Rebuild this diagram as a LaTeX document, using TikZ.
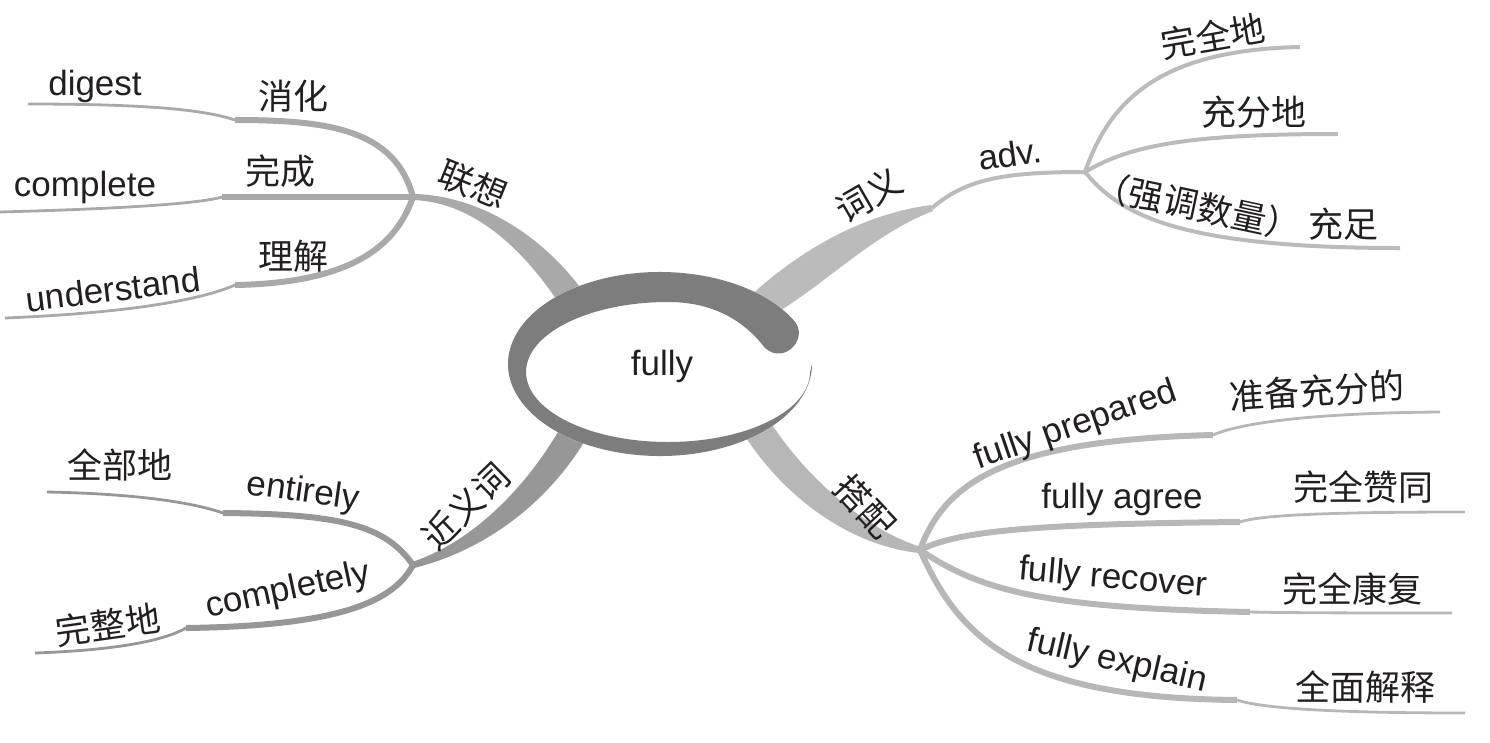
\documentclass[tikz,border=0pt]{standalone}
\usepackage{fontspec}
\setmainfont{Liberation Sans}
\newfontfamily\cjk{Noto Sans CJK SC}
\usetikzlibrary{calc}
\definecolor{ringgray}{HTML}{7D7D7D}
\definecolor{assocgray}{HTML}{A9A9A9}
\definecolor{meangray}{HTML}{BBBBBB}
\definecolor{syngray}{HTML}{979797}
\definecolor{collgray}{HTML}{B7B7B7}
\definecolor{inkgray}{HTML}{231F20}

\begin{document}
\begin{tikzpicture}[x=1pt, y=-1pt,
  en/.style={font=\fontsize{35}{40}\selectfont, text=inkgray, inner sep=0pt},
  zh/.style={font=\cjk\fontsize{35}{40}\selectfont, text=inkgray, inner sep=0pt},
  twig/.style={line width=6pt},
  leaf/.style={line width=2.8pt},
  stem/.style={line width=4pt}
]
\useasboundingbox (0,0) rectangle (1490,742);

% 联想
\coordinate (j1) at (413,197);
\coordinate (s11) at (235,120); \coordinate (e11) at (28,104);
\coordinate (s12) at (222,197); \coordinate (e12) at (0,212);
\coordinate (s13) at (235,285); \coordinate (e13) at (5,318);
\fill[assocgray] (413,194) .. controls (480,195) and (552,238) .. (597,312) -- (573,326) .. controls (530,252) and (475,202) .. (413,200) -- cycle;
\draw[twig, assocgray] (j1) .. controls (395,130) and (330,120) .. (s11);
\draw[twig, assocgray] (j1) -- (s12);
\draw[twig, assocgray] (j1) .. controls (398,240) and (360,283) .. (s13);
\draw[leaf, assocgray] (s11) .. controls (205,110) and (150,104) .. (e11);
\draw[leaf, assocgray] (s12) .. controls (205,202) and (150,208) .. (e12);
\draw[leaf, assocgray] (s13) .. controls (210,296) and (150,312) .. (e13);
\node[en] (digest) at (95,86) {digest};
\node[zh] (xiaohua) at (293,96) {消化};
\node[en] (complete) at (85,187) {complete};
\node[zh] (wancheng) at (280,171) {完成};
\node[en, rotate=7] (understand) at (113,289) {understand};
\node[zh] (lijie) at (293,256) {理解};
\node[zh, rotate=-22] (lianxiang) at (473,184) {联想};

% 词义
\coordinate (s2) at (932,208);
\coordinate (j2) at (1085,172);
\coordinate (e21) at (1300,47); \coordinate (e22) at (1338,134); \coordinate (e23) at (1400,248);
\fill[meangray] (746,300) .. controls (790,258) and (855,215) .. (931,205) -- (933,211) .. controls (870,235) and (820,290) .. (764,320) -- cycle;
\draw[stem, meangray] (s2) .. controls (965,180) and (1000,172) .. (j2);
\draw[stem, meangray] (j2) .. controls (1110,100) and (1160,50) .. (e21);
\draw[stem, meangray] (j2) .. controls (1130,145) and (1190,134) .. (e22);
\draw[stem, meangray] (j2) .. controls (1120,215) and (1180,248) .. (e23);
\node[zh, rotate=30] (ciyi) at (869,195) {词义};
\node[en, rotate=8] (adv) at (1010,154) {adv.};
\node[zh, rotate=10] (wanquan) at (1213,36) {完全地};
\node[zh] (chongfen) at (1254,112) {充分地};
\node[zh, rotate=-12] (qiangdiao) at (1198,206) {（强调数量）};
\node[zh] (chongzu) at (1343,224) {充足};

% 近义词
\coordinate (j3) at (413,565);
\coordinate (s31) at (223,513); \coordinate (e31) at (47,492);
\coordinate (s32) at (186,628); \coordinate (e32) at (35,653);
\fill[syngray] (412,562) .. controls (475,541) and (530,484) .. (566,418) -- (590,432) .. controls (552,500) and (487,550) .. (414,568) -- cycle;
\draw[twig, syngray] (j3) .. controls (385,525) and (340,514) .. (s31);
\draw[twig, syngray] (j3) .. controls (392,605) and (330,626) .. (s32);
\draw[leaf, syngray] (s31) .. controls (200,505) and (150,494) .. (e31);
\draw[leaf, syngray] (s32) .. controls (165,640) and (120,650) .. (e32);
\node[zh, rotate=44] (jinyici) at (466,506) {近义词};
\node[en, rotate=-8] (entirely) at (303,493) {entirely};
\node[zh] (quanbu) at (120,465) {全部地};
\node[en, rotate=12] (completely) at (288,591) {completely};
\node[zh, rotate=8] (wanzheng) at (108,625) {完整地};

% 搭配
\coordinate (j4) at (920,550);
\coordinate (s41) at (1213,435); \coordinate (e41) at (1440,412);
\coordinate (s42) at (1240,522); \coordinate (e42) at (1465,512);
\coordinate (s43) at (1250,612); \coordinate (e43) at (1452,613);
\coordinate (s44) at (1237,700); \coordinate (e44) at (1465,713);
\fill[collgray] (767,417) .. controls (800,470) and (860,528) .. (921,547) -- (919,553) .. controls (845,545) and (780,492) .. (743,433) -- cycle;
\draw[twig, collgray] (j4) .. controls (945,480) and (1010,440) .. (s41);
\draw[twig, collgray] (j4) .. controls (960,530) and (1040,524) .. (s42);
\draw[twig, collgray] (j4) .. controls (980,590) and (1040,608) .. (s43);
\draw[twig, collgray] (j4) .. controls (960,640) and (1020,698) .. (s44);
\draw[leaf, collgray] (s41) .. controls (1235,425) and (1300,413) .. (e41);
\draw[leaf, collgray] (s42) .. controls (1260,515) and (1330,512) .. (e42);
\draw[leaf, collgray] (s43) .. controls (1300,613) and (1380,613) .. (e43);
\draw[leaf, collgray] (s44) .. controls (1260,708) and (1330,713) .. (e44);
\node[zh, rotate=-47] (dapei) at (865,506) {搭配};
\node[en, rotate=19] (prepared) at (1076,426) {fully prepared};
\node[zh, rotate=4] (zhunbei) at (1317,391) {准备充分的};
\node[en] (agree) at (1122,499) {fully agree};
\node[zh] (zantong) at (1363,487) {完全赞同};
\node[en, rotate=-5] (recover) at (1113,579) {fully recover};
\node[zh] (kangfu) at (1352,589) {完全康复};
\node[en, rotate=-13] (explain) at (1117,662) {fully explain};
\node[zh] (jieshi) at (1365,687) {全面解释};

% centre
\fill[white] (660,364) ellipse [x radius=152, y radius=92];
\fill[ringgray] ($(660,364)+(-30:152 and 92)$) arc[start angle=-30, end angle=-360, x radius=152, y radius=92]
  -- ($(668,372)+(0:142 and 70)$) arc[start angle=0, end angle=270, x radius=142, y radius=70]
  .. controls (715,302) and (745,322) .. (765,348)
  .. controls (785,366) and (812,336) .. (791.6,318) -- cycle;
\node[en] (fully) at (662,366) {fully};
\end{tikzpicture}
\end{document}
